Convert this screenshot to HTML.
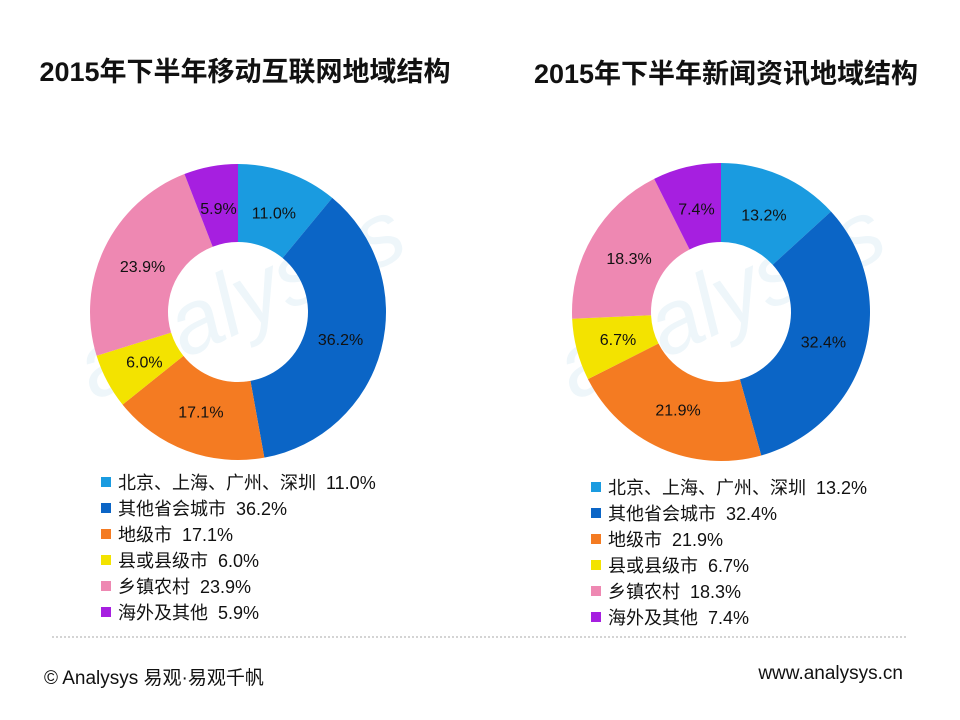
<!DOCTYPE html>
<html><head><meta charset="utf-8">
<style>
body{margin:0;background:#fff;}
#wrap{position:relative;width:960px;height:720px;overflow:hidden;font-family:"Liberation Sans","Noto Sans CJK SC",sans-serif;}
.title{position:absolute;font-weight:bold;font-size:27px;color:#111;white-space:nowrap;transform:translateX(-50%);}
.leg{position:absolute;font-size:18px;color:#111;white-space:nowrap;}
.leg span.sw{display:inline-block;width:10px;height:10px;margin-right:7px;vertical-align:2px;}
.foot{position:absolute;font-size:19px;color:#111;top:663px;}
</style></head><body>
<div id="wrap">
<div class="title" style="left:245px;top:50px">2015年下半年移动互联网地域结构</div>
<div class="title" style="left:726px;top:52px">2015年下半年新闻资讯地域结构</div>
<svg id="svg" width="960" height="720" style="position:absolute;left:0;top:0">
<text x="240" y="330" font-size="90" fill="#eef6fa" transform="rotate(-25 240 300)" text-anchor="middle" font-family="Liberation Sans" font-style="italic">analysys</text>
<text x="720" y="330" font-size="90" fill="#eef6fa" transform="rotate(-25 720 300)" text-anchor="middle" font-family="Liberation Sans" font-style="italic">analysys</text>
<line x1="52" y1="637" x2="908" y2="637" stroke="#aaa" stroke-dasharray="2,2"/>
</svg>
<div class="foot" style="left:44px">© Analysys 易观·易观千帆</div>
<div class="foot" style="right:57px">www.analysys.cn</div>
</div>
<script>
const categories=["北京、上海、广州、深圳","其他省会城市","地级市","县或县级市","乡镇农村","海外及其他"];
const leftValues=[11.0,36.2,17.1,6.0,23.9,5.9];
const rightValues=[13.2,32.4,21.9,6.7,18.3,7.4];
const colors=["#1a9be0","#0b65c6","#f47b22","#f3e300","#ee88b2","#a61fe0"];
const svg=document.getElementById('svg');
const wrap=document.getElementById('wrap');
const NS="http://www.w3.org/2000/svg";
function pt(cx,cy,r,a){return [cx+r*Math.sin(a),cy-r*Math.cos(a)];}
function donut(vals,cx,cy,R,r,side,lx,ly){
  const tot=vals.reduce((a,b)=>a+b,0);let a0=0;
  vals.forEach((v,i)=>{
    const a1=a0+v/tot*2*Math.PI;const lg=(a1-a0)>Math.PI?1:0;
    const p1=pt(cx,cy,R,a0),p2=pt(cx,cy,R,a1),p3=pt(cx,cy,r,a1),p4=pt(cx,cy,r,a0);
    const p=document.createElementNS(NS,'path');
    p.setAttribute('d',`M${p1}A${R},${R} 0 ${lg} 1 ${p2}L${p3}A${r},${r} 0 ${lg} 0 ${p4}Z`);
    p.setAttribute('fill',colors[i]);
    
    
    svg.appendChild(p);
    const m=(a0+a1)/2;const lp=pt(cx,cy,(R+r)/2-3,m);
    const t=document.createElementNS(NS,'text');
    t.setAttribute('x',lp[0]);t.setAttribute('y',lp[1]+6);
    t.setAttribute('text-anchor','middle');t.setAttribute('font-size','16');
    t.setAttribute('font-family','Liberation Sans');t.setAttribute('fill','#111');
    t.textContent=v.toFixed(1)+'%';
    
    
    svg.appendChild(t);
    const d=document.createElement('div');d.className='leg';
    d.style.left=lx+'px';d.style.top=(ly+i*26)+'px';
    d.innerHTML='<span class="sw" style="background:'+colors[i]+'"></span>'+categories[i]+'&nbsp; '+v.toFixed(1)+'%';
    
    
    wrap.appendChild(d);
    a0=a1;
  });
}
donut(leftValues,238,312,148,70,'left',101,469);
donut(rightValues,721,312,149,70,'right',591,474);
</script>
</body></html>
